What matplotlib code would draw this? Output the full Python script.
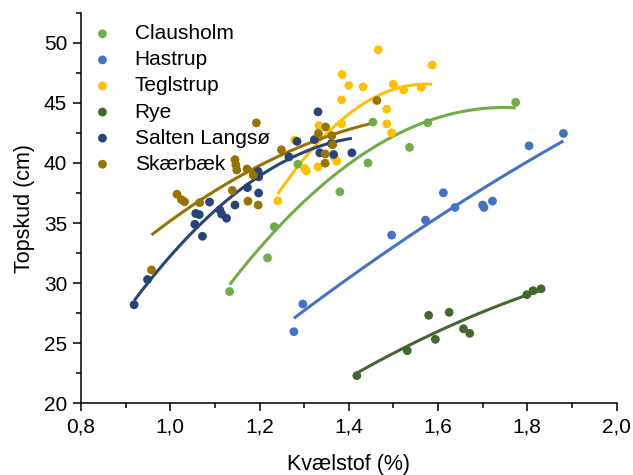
import numpy as np
import matplotlib
matplotlib.use("Agg")
import matplotlib.pyplot as plt
from matplotlib.ticker import MultipleLocator, FuncFormatter

plt.rcParams['font.family'] = ['Liberation Sans', 'DejaVu Sans']

# Kvælstof (%) og topskud (cm) pr. lokalitet
clausholm_x = [1.133, 1.218, 1.233, 1.286, 1.380, 1.443, 1.454, 1.536, 1.577, 1.774]
clausholm_y = [29.3, 32.1, 34.7, 39.9, 37.6, 40.0, 43.4, 41.3, 43.35, 45.05]

hastrup_x = [1.277, 1.297, 1.496, 1.572, 1.612, 1.638, 1.700, 1.703, 1.722, 1.804, 1.881]
hastrup_y = [25.96, 28.26, 34.0, 35.25, 37.52, 36.3, 36.5, 36.3, 36.83, 41.43, 42.46]

teglstrup_x = [1.241, 1.279, 1.301, 1.305, 1.331, 1.333, 1.368, 1.373, 1.384, 1.384, 1.385,
               1.400, 1.432, 1.466, 1.485, 1.485, 1.496, 1.500, 1.523, 1.562, 1.587]
teglstrup_y = [36.85, 41.9, 39.55, 39.33, 39.68, 43.1, 40.5, 40.15, 43.26, 45.26, 47.37,
               46.46, 46.34, 49.42, 44.48, 43.26, 42.51, 46.56, 46.07, 46.29, 48.15]

rye_x = [1.418, 1.531, 1.579, 1.594, 1.625, 1.657, 1.671, 1.799, 1.813, 1.831]
rye_y = [22.3, 24.38, 27.32, 25.32, 27.57, 26.2, 25.82, 29.04, 29.37, 29.53]

salten_x = [0.919, 0.949, 1.055, 1.072, 1.057, 1.065, 1.088, 1.111, 1.115, 1.126, 1.145, 1.173,
            1.197, 1.198, 1.198, 1.266, 1.284, 1.323, 1.331, 1.335, 1.361, 1.366, 1.407]
salten_y = [28.2, 30.3, 34.9, 33.9, 35.8, 35.7, 36.75, 36.1, 35.75, 35.4, 36.5, 37.95,
            39.3, 38.85, 37.5, 40.5, 41.8, 41.95, 44.26, 40.85, 41.63, 40.71, 40.85]

skaerbaek_x = [0.958, 1.015, 1.025, 1.032, 1.066, 1.139, 1.145, 1.147, 1.149, 1.172, 1.186,
               1.174, 1.197, 1.193, 1.249, 1.332, 1.348, 1.362, 1.364, 1.347, 1.347, 1.463]
skaerbaek_y = [31.1, 37.4, 36.95, 36.77, 36.7, 37.72, 40.28, 39.85, 39.42, 39.5, 38.99,
               36.82, 36.5, 43.34, 41.1, 42.46, 43.0, 42.27, 41.52, 40.75, 39.98, 45.2]

names = ['Clausholm', 'Hastrup', 'Teglstrup', 'Rye', 'Salten Langsø', 'Skærbæk']
colors = ['#70AD47', '#4472C4', '#FFC000', '#43682B', '#264478', '#997300']
xs = [clausholm_x, hastrup_x, teglstrup_x, rye_x, salten_x, skaerbaek_x]
ys = [clausholm_y, hastrup_y, teglstrup_y, rye_y, salten_y, skaerbaek_y]

fig = plt.figure(figsize=(6.33, 4.75), dpi=100)
ax = fig.add_axes([0.128, 0.151, 0.846, 0.822])

for name, c, x, y in zip(names, colors, xs, ys):
    x = np.array(x)
    y = np.array(y)
    # 2. ordens polynomium som tendenslinje
    p = np.polyfit(x, y, 2)
    xx = np.linspace(x.min(), x.max(), 100)
    ax.plot(xx, np.polyval(p, xx), color=c, lw=2.2, zorder=2, solid_capstyle='butt')
    ax.scatter(x, y, s=40, color=c, edgecolors='none', zorder=3, label=name)

ax.set_xlim(0.8, 2.0)
ax.set_ylim(20, 52.5)
ax.xaxis.set_major_locator(MultipleLocator(0.2))
ax.xaxis.set_minor_locator(MultipleLocator(0.1))
ax.yaxis.set_major_locator(MultipleLocator(5))
ax.yaxis.set_minor_locator(MultipleLocator(2.5))
ax.xaxis.set_major_formatter(FuncFormatter(lambda v, pos: f"{v:.1f}".replace('.', ',')))
ax.yaxis.set_major_formatter(FuncFormatter(lambda v, pos: f"{v:.0f}"))

for s in ['top', 'right']:
    ax.spines[s].set_visible(False)
for s in ['left', 'bottom']:
    ax.spines[s].set_linewidth(1.1)
ax.tick_params(which='major', direction='out', length=6, width=1.1, labelsize=15, pad=4)
ax.tick_params(which='minor', direction='out', length=3.5, width=1.1)

ax.set_xlabel('Kvælstof (%)', fontsize=15.5, labelpad=13)
ax.set_ylabel('Topskud (cm)', fontsize=15.5, labelpad=6)

ax.legend(loc='upper left', frameon=False, fontsize=15, handletextpad=1.05,
          labelspacing=0.34, borderaxespad=0.0, bbox_to_anchor=(0.005, 0.992),
          markerscale=1.0, scatterpoints=1, handlelength=1.0)

fig.savefig('out.png', dpi=100)
